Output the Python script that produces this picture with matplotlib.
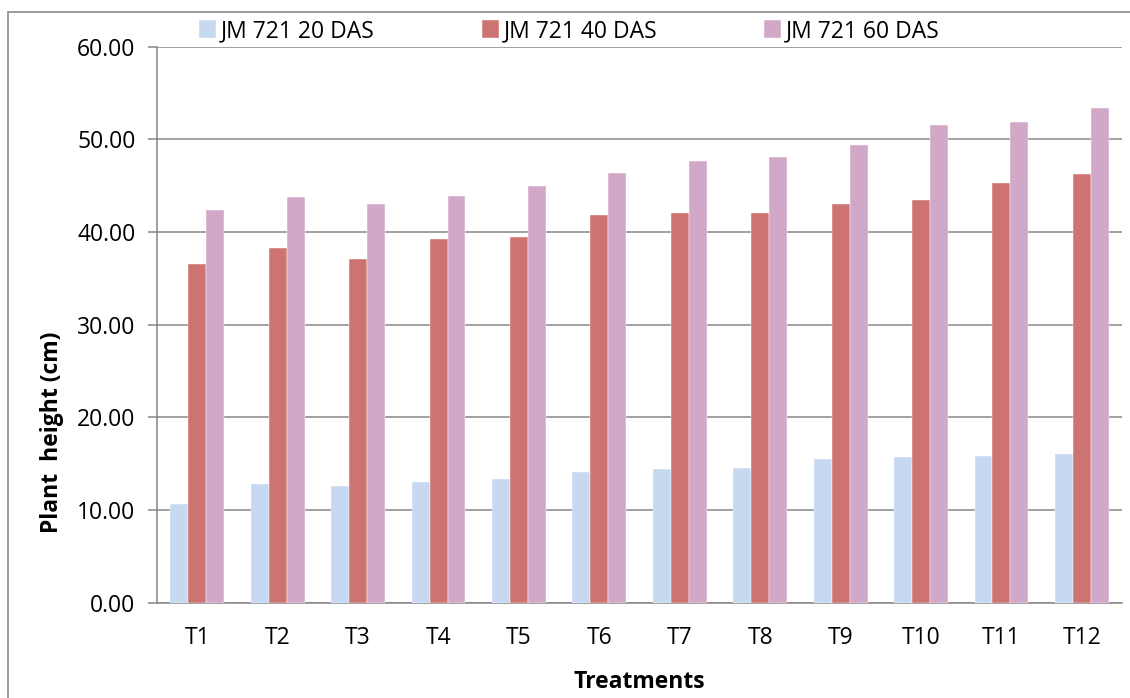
import numpy as np
import matplotlib
matplotlib.use("Agg")
import matplotlib.pyplot as plt
from matplotlib.patches import Rectangle

#data
treatments=['T1','T2','T3','T4','T5','T6','T7','T8','T9','T10','T11','T12']
das20=[10.65,12.80,12.59,12.99,13.30,14.10,14.42,14.57,15.50,15.72,15.83,16.07]
das40=[36.57,38.30,37.08,39.20,39.50,41.80,42.04,42.10,43.04,43.50,45.24,46.25]
das60=[42.36,43.80,43.00,43.90,45.00,46.40,47.70,48.05,49.34,51.50,51.90,53.37]
labels=['JM 721 20 DAS','JM 721 40 DAS','JM 721 60 DAS']
colors=['#C6D9F0','#CD7371','#D2A8C8']

plt.rcParams['font.family']=['Open Sans','DejaVu Sans']
fs=16.5

fig=plt.figure(figsize=(11.3,6.98),dpi=100)
ax=fig.add_axes([0.139,0.1365,0.854,0.7966])

#grouped bars
x=np.arange(len(treatments))
w=0.223
for i,vals in enumerate([das20,das40,das60]):
    ax.bar(x+(i-1)*w,vals,width=w,color=colors[i],edgecolor='white',linewidth=0.3,label=labels[i],zorder=3)

ax.set_xlim(-0.5,len(treatments)-0.5)
ax.set_ylim(0,60)
ax.set_yticks(np.arange(0,61,10))
ax.set_yticklabels(['%.2f' % v for v in np.arange(0,61,10)],fontsize=fs)
ax.set_xticks(x)
ax.set_xticklabels(treatments,fontsize=fs)
ax.tick_params(axis='x',length=0,pad=17)
ax.tick_params(axis='y',length=6.5,width=1.1,color='#868686',direction='out',pad=9)

#gridlines and spines
ax.yaxis.grid(True,color='#868686',linewidth=1.1,zorder=0)
ax.set_axisbelow(True)
for s in ['top','right']:
    ax.spines[s].set_visible(False)
for s in ['left','bottom']:
    ax.spines[s].set_color('#868686')
    ax.spines[s].set_linewidth(1.1)

ax.set_xlabel('Treatments',fontsize=fs,fontweight='bold',labelpad=14)
fig.text(52/1130,1-432/698,'Plant  height (cm)',rotation=90,fontsize=fs,fontweight='bold',ha='center',va='center')

#legend across the top
ax.legend(loc='lower left',bbox_to_anchor=(0.034,0.99),ncol=3,frameon=False,fontsize=fs,
          handlelength=0.75,handleheight=0.85,handletextpad=0.2,columnspacing=4.67,borderaxespad=0)

#outer chart border
fig.patches.append(Rectangle((8/1130,-0.1),1.2,1-12/698+0.1,transform=fig.transFigure,fill=False,edgecolor='#8c8c8c',linewidth=1.2))

fig.savefig('out.png',dpi=100)
